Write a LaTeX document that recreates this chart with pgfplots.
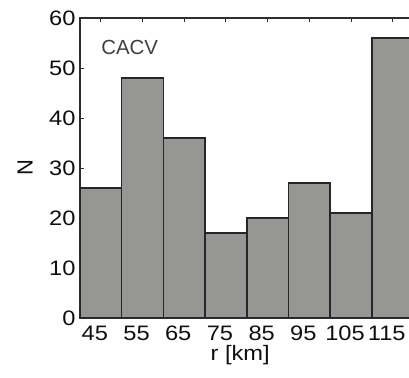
\documentclass[border=0pt]{standalone}
\usepackage{pgfplots}
\pgfplotsset{compat=1.18}
\usepackage{fontspec}
\setmainfont{Liberation Sans}
\newfontfamily\wfont{Liberation Sans}[FakeStretch=1.13]
\definecolor{barfill}{RGB}{150,150,149}
\definecolor{baredge}{RGB}{38,38,38}
\definecolor{axcol}{RGB}{45,45,45}
\definecolor{txt}{RGB}{15,15,15}
\begin{document}
\begin{tikzpicture}
\begin{axis}[
  name=ax,
  scale only axis,
  width=333.6bp, height=300bp,
  xmin=40, xmax=120, ymin=0, ymax=60,
  xtick={45,55,65,75,85,95,105,115},
  ytick={0,10,20,30,40,50,60},
  tick align=inside,
  major tick length=3.5bp,
  tick style={axcol, line width=1bp},
  axis line style={axcol, line width=1.5bp},
  /pgf/number format/assume math mode=true,
  ticklabel style={font=\wfont\fontsize{21}{24}\selectfont, text=txt},
  xticklabel style={anchor=base, yshift=-22.5bp, xshift=-6bp},
  yticklabel style={xshift=-1bp},
  clip mode=individual,
]
\addplot[ybar, bar width=10, bar shift=0pt, fill=barfill, draw=baredge, line width=1.5bp]
  coordinates {(45,26) (55,48) (65,36) (75,17) (85,20) (95,27) (105,21) (115,56)};
\node[anchor=west, text=black!75, inner sep=0pt, font=\fontsize{20.5}{24}\selectfont] at (axis cs:45.05,54.1) {CACV};
\node[anchor=base, text=txt, inner sep=0pt, font=\wfont\fontsize{21}{24}\selectfont] at ([yshift=-42bp]rel axis cs:0.48,0) {r [km]};
\node[anchor=center, text=txt, inner sep=0pt, rotate=90, font=\fontsize{22}{24}\selectfont] at ([xshift=-55bp]rel axis cs:0,0.503) {N};
\end{axis}
\pgfresetboundingbox
\useasboundingbox (ax.south west) ++(-80bp,-60bp) rectangle ++(409bp,378bp);
\end{tikzpicture}
\end{document}
